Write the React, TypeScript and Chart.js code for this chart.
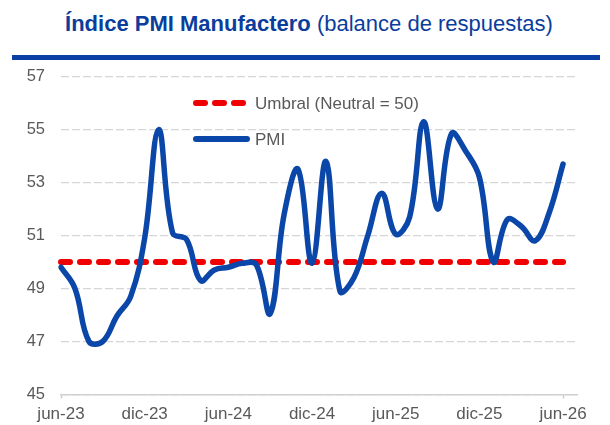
import React, { useEffect, useRef } from "react";
import { Chart, registerables } from "chart.js";

Chart.register(...registerables);

const monthLabels = [
  "jun-23", "jul-23", "ago-23", "sep-23", "oct-23", "nov-23", "dic-23",
  "ene-24", "feb-24", "mar-24", "abr-24", "may-24", "jun-24",
  "jul-24", "ago-24", "sep-24", "oct-24", "nov-24", "dic-24",
  "ene-25", "feb-25", "mar-25", "abr-25", "may-25", "jun-25",
  "jul-25", "ago-25", "sep-25", "oct-25", "nov-25", "dic-25",
  "ene-26", "feb-26", "mar-26", "abr-26", "may-26", "jun-26", "jul-26",
];

const pmiValues = [
  49.8, 49.0, 47.0, 47.0, 47.95, 48.7, 50.9,
  55.0, 51.1, 50.85, 49.3, 49.7, 49.8,
  49.95, 49.9, 48.05, 51.8, 53.5, 49.95,
  53.8, 48.9, 49.4, 51.0, 52.6, 51.05,
  51.7, 55.3, 52.0, 54.85, 54.2, 53.2,
  50.0, 51.6, 51.35, 50.8, 51.85, 53.7,
];

const umbralValues = [
  50, 50, 50, 50, 50, 50, 50,
  50, 50, 50, 50, 50, 50,
  50, 50, 50, 50, 50, 50,
  50, 50, 50, 50, 50, 50,
  50, 50, 50, 50, 50, 50,
  50, 50, 50, 50, 50, 50,
];

const yTicks = [45, 47, 49, 51, 53, 55, 57];

const seriesNames = ["Umbral (Neutral = 50)", "PMI"];

const FONT = '"Liberation Sans", Arial, Helvetica, sans-serif';
const GREY = "#595959";
const BLUE = "#0A47A8";
const RED = "#F00000";

const legendPlugin = {
  id: "innerLegend",
  afterDraw(chart: any) {
    const ctx = chart.ctx;
    ctx.save();
    const rows = [
      { y: 103, color: RED, dash: [9, 10], text: seriesNames[0] },
      { y: 139, color: BLUE, dash: [], text: seriesNames[1] },
    ];
    rows.forEach((r) => {
      ctx.beginPath();
      ctx.setLineDash(r.dash);
      ctx.lineWidth = 6;
      ctx.lineCap = "round";
      ctx.strokeStyle = r.color;
      ctx.moveTo(196, r.y);
      ctx.lineTo(r.dash.length ? 243 : 247, r.y);
      ctx.stroke();
      ctx.setLineDash([]);
      ctx.fillStyle = GREY;
      ctx.font = `17px ${FONT}`;
      ctx.textBaseline = "middle";
      ctx.textAlign = "left";
      ctx.fillText(r.text, 255, r.y + 1);
    });
    ctx.restore();
  },
};

export default function App() {
  const canvasRef = useRef<HTMLCanvasElement | null>(null);

  useEffect(() => {
    const canvas = canvasRef.current;
    if (!canvas) return;
    const chart = new Chart(canvas, {
      type: "line",
      data: {
        labels: monthLabels,
        datasets: [
          {
            label: seriesNames[1],
            data: pmiValues,
            borderColor: BLUE,
            borderWidth: 5.5,
            tension: 0.4,
            pointRadius: 0,
            borderCapStyle: "round",
            borderJoinStyle: "round",
            fill: false,
            order: 0,
          },
          {
            label: seriesNames[0],
            data: umbralValues,
            borderColor: RED,
            borderWidth: 6,
            borderDash: [9, 10],
            borderCapStyle: "round",
            pointRadius: 0,
            tension: 0,
            fill: false,
            order: 1,
          },
        ],
      },
      options: {
        responsive: false,
        animation: false,
        events: [],
        layout: { padding: { top: 76.7, right: 33, bottom: 0, left: 0 } },
        plugins: {
          legend: { display: false },
          tooltip: { enabled: false },
          title: { display: false },
        },
        scales: {
          x: {
            type: "category",
            offset: false,
            afterFit: (scale: any) => {
              scale.height = 30.7;
            },
            grid: {
              drawOnChartArea: false,
              drawTicks: true,
              tickLength: 4,
              tickColor: (c: any) => (c.index % 6 === 0 ? "#C8C8C8" : "rgba(0,0,0,0)"),
              tickWidth: 1.5,
            },
            border: { display: true, color: "#D0D0D0", width: 1.5 },
            ticks: {
              autoSkip: false,
              maxRotation: 0,
              minRotation: 0,
              padding: 6,
              color: GREY,
              font: { family: FONT, size: 17 },
              callback: (_v: any, i: number) => (i % 6 === 0 ? monthLabels[i] : null),
            },
          },
          y: {
            min: yTicks[0],
            max: yTicks[yTicks.length - 1],
            afterFit: (scale: any) => {
              scale.width = 61;
            },
            afterBuildTicks: (scale: any) => {
              scale.ticks = yTicks.map((v) => ({ value: v }));
            },
            grid: {
              drawTicks: false,
              color: "#D6D6D6",
              lineWidth: 1.2,
            },
            border: { display: false, dash: [8, 3] },
            ticks: {
              padding: 16,
              color: GREY,
              font: { family: FONT, size: 16.5 },
            },
          },
        },
      },
      plugins: [legendPlugin],
    });
    return () => chart.destroy();
  }, []);

  return (
    <div
      style={{
        position: "fixed",
        left: 0,
        top: 0,
        width: 610,
        height: 425,
        background: "#ffffff",
        overflow: "hidden",
      }}
    >
      <div
        style={{
          position: "absolute",
          top: 13,
          left: 4,
          width: 610,
          textAlign: "center",
          fontFamily: FONT,
          fontSize: 22,
          lineHeight: "22px",
          color: "#0B3D9C",
          whiteSpace: "nowrap",
        }}
      >
        <span style={{ fontWeight: "bold" }}>Índice PMI Manufactero</span>
        <span> (balance de respuestas)</span>
      </div>
      <div
        style={{
          position: "absolute",
          top: 55,
          left: 12,
          width: 588,
          height: 5,
          background: "#0A40A4",
        }}
      />
      <canvas
        ref={canvasRef}
        width={610}
        height={425}
        style={{ position: "absolute", left: 0, top: 0, width: 610, height: 425 }}
      />
    </div>
  );
}
